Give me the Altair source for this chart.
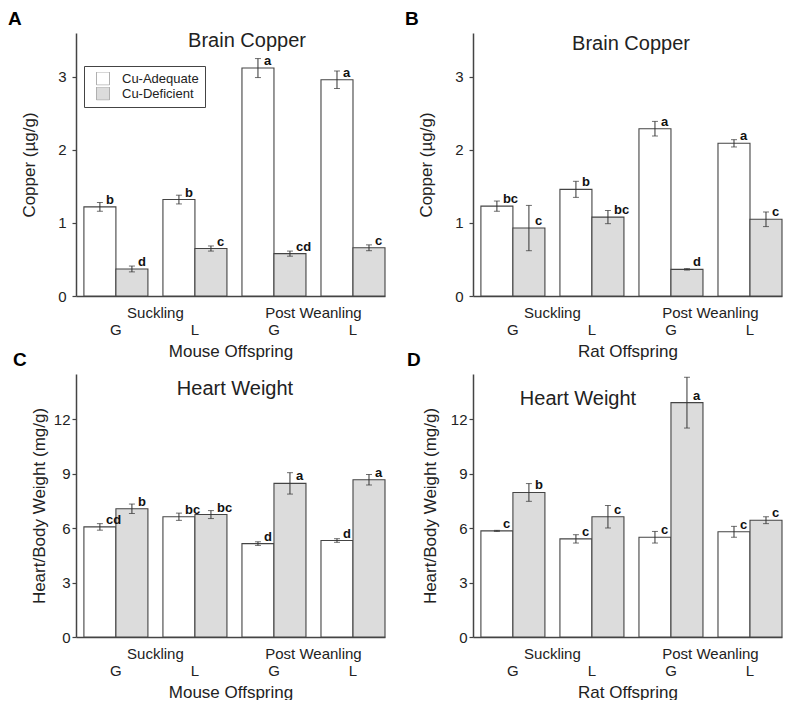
import altair as alt
import pandas as pd

# ---------------- data ----------------
groups = ["Suckling G", "Suckling L", "Post Weanling G", "Post Weanling L"]
diet_labels = ["G", "L", "G", "L"]
stage_labels = ["Suckling", "", "Post Weanling", ""]
treatments = ["Cu-Adequate", "Cu-Deficient"]

# Panel A: Brain copper, mouse offspring (ug/g)
a_adequate = [1.22, 1.32, 3.12, 2.96]
a_adequate_err = [0.06, 0.06, 0.13, 0.12]
a_adequate_sig = ["b", "b", "a", "a"]
a_deficient = [0.37, 0.65, 0.58, 0.66]
a_deficient_err = [0.04, 0.035, 0.035, 0.04]
a_deficient_sig = ["d", "c", "cd", "c"]

# Panel B: Brain copper, rat offspring (ug/g)
b_adequate = [1.23, 1.46, 2.29, 2.09]
b_adequate_err = [0.07, 0.11, 0.10, 0.05]
b_adequate_sig = ["bc", "b", "a", "a"]
b_deficient = [0.93, 1.08, 0.365, 1.05]
b_deficient_err = [0.31, 0.09, 0.01, 0.10]
b_deficient_sig = ["c", "bc", "d", "c"]

# Panel C: Heart/body weight, mouse offspring (mg/g)
c_adequate = [6.07, 6.63, 5.15, 5.32]
c_adequate_err = [0.18, 0.2, 0.1, 0.1]
c_adequate_sig = ["cd", "bc", "d", "d"]
c_deficient = [7.07, 6.75, 8.47, 8.67]
c_deficient_err = [0.26, 0.22, 0.59, 0.29]
c_deficient_sig = ["b", "bc", "a", "a"]

# Panel D: Heart/body weight, rat offspring (mg/g)
d_adequate = [5.85, 5.41, 5.50, 5.80]
d_adequate_err = [0.03, 0.23, 0.32, 0.30]
d_adequate_sig = ["c", "c", "c", "c"]
d_deficient = [7.97, 6.63, 12.92, 6.44]
d_deficient_err = [0.49, 0.62, 1.4, 0.19]
d_deficient_sig = ["b", "c", "a", "c"]

FONT = "Liberation Sans"
W, H = 309, 263
INK = "#222222"
LINE = "#444444"


def make_df(adq, adq_e, adq_s, dfc, dfc_e, dfc_s):
    rows = []
    for i, g in enumerate(groups):
        for t, v, e, s in ((treatments[0], adq[i], adq_e[i], adq_s[i]),
                           (treatments[1], dfc[i], dfc_e[i], dfc_s[i])):
            rows.append({"group": g, "treatment": t, "value": v,
                         "lo": v - e, "hi": v + e, "sig": s})
    return pd.DataFrame(rows)


label_df = pd.DataFrame({"group": groups, "diet": diet_labels, "stage": stage_labels})


def panel(df, ymax, yticks, ytitle, xtitle, title, title_xy, letter, letter_x,
          label_pad, title_x, legend=False):
    xscale = alt.Scale(domain=groups, paddingInner=0.19, paddingOuter=0.05, align=1)
    x = alt.X("group:N", scale=xscale, sort=groups,
              axis=alt.Axis(labels=False, ticks=False, title=xtitle,
                            titlePadding=47, titleFontSize=17, titleFont=FONT,
                            titleFontWeight="normal", titleColor=INK,
                            domainColor=LINE, domainWidth=1.5))
    xo = alt.XOffset("treatment:N", sort=treatments,
                     scale=alt.Scale(domain=treatments, paddingInner=0, paddingOuter=0))
    y = alt.Y("value:Q", scale=alt.Scale(domain=[0, ymax], nice=False, zero=True),
              axis=alt.Axis(values=yticks, format="d", title=ytitle, grid=False,
                            tickSize=4, tickColor=LINE, tickWidth=1.2,
                            domainColor=LINE, domainWidth=1.5, labelFontSize=15,
                            labelFont=FONT, labelColor=INK, labelPadding=label_pad,
                            titleFontSize=17, titleFont=FONT,
                            titleFontWeight="normal", titleColor=INK,
                            titleX=title_x, titleY=H / 2, titleBaseline="middle",
                            titleAlign="center", titleAngle=-90))
    if legend:
        leg = alt.Legend(orient="none", legendX=8, legendY=33, title=" ",
                         titleOrient="left", titleFontSize=13, titlePadding=6,
                         strokeColor=LINE, fillColor="white", padding=6,
                         symbolType="square", symbolSize=169, clipHeight=13,
                         symbolStrokeColor="#b0b0b0", symbolStrokeWidth=1,
                         labelFontSize=13, labelFont=FONT, labelColor=INK,
                         labelOffset=12, rowPadding=1)
    else:
        leg = None
    color = alt.Color("treatment:N",
                      scale=alt.Scale(domain=treatments, range=["#ffffff", "#dcdcdc"]),
                      legend=leg)
    base = alt.Chart(df)
    bars = base.mark_bar(stroke=LINE, strokeWidth=1.1, width={"band": 1}).encode(
        x=x, xOffset=xo, y=y, color=color)
    rules = base.mark_rule(color="#333333", strokeWidth=1).encode(
        x=alt.X("group:N", sort=groups), xOffset=xo, y="lo:Q", y2="hi:Q")
    cap_lo = base.mark_tick(color="#333333", thickness=1, size=6, orient="horizontal").encode(
        x=alt.X("group:N", sort=groups), xOffset=xo, y="lo:Q")
    cap_hi = base.mark_tick(color="#333333", thickness=1, size=6, orient="horizontal").encode(
        x=alt.X("group:N", sort=groups), xOffset=xo, y="hi:Q")
    sig = base.mark_text(align="left", baseline="alphabetic", dx=6, dy=-3,
                         fontSize=13, fontWeight="bold", font=FONT, color="#111111").encode(
        x=alt.X("group:N", sort=groups), xOffset=xo, y="value:Q", text="sig:N")
    lab = alt.Chart(label_df)
    diet = lab.mark_text(baseline="middle", align="center", fontSize=15, font=FONT,
                         color=INK).encode(
        x=alt.X("group:N", sort=groups), y=alt.value(H + 34), text="diet:N")
    stage = lab.mark_text(baseline="middle", align="center", fontSize=15, font=FONT,
                          color=INK, dx=39.5).encode(
        x=alt.X("group:N", sort=groups), y=alt.value(H + 17), text="stage:N")
    ttl = alt.Chart(pd.DataFrame({"t": [title]})).mark_text(
        baseline="middle", align="center", fontSize=20, font=FONT, color=INK).encode(
        x=alt.value(title_xy[0]), y=alt.value(title_xy[1]), text="t:N")
    let = alt.Chart(pd.DataFrame({"t": [letter]})).mark_text(
        baseline="top", align="left", fontSize=19, fontWeight="bold", font=FONT,
        color="#000000").encode(
        x=alt.value(letter_x), y=alt.value(-23), text="t:N")
    return alt.layer(bars, rules, cap_lo, cap_hi, sig, diet, stage, ttl, let).properties(
        width=W, height=H)


pA = panel(make_df(a_adequate, a_adequate_err, a_adequate_sig,
                   a_deficient, a_deficient_err, a_deficient_sig),
           3.6, [0, 1, 2, 3], "Copper (µg/g)", "Mouse Offspring", "Brain Copper",
           (171, 8), "A", -68, 6, -46.5, legend=True)
pB = panel(make_df(b_adequate, b_adequate_err, b_adequate_sig,
                   b_deficient, b_deficient_err, b_deficient_sig),
           3.6, [0, 1, 2, 3], "Copper (µg/g)", "Rat Offspring", "Brain Copper",
           (158, 11), "B", -68, 6, -47)
pC = panel(make_df(c_adequate, c_adequate_err, c_adequate_sig,
                   c_deficient, c_deficient_err, c_deficient_sig),
           14.5, [0, 3, 6, 9, 12], "Heart/Body Weight (mg/g)", "Mouse Offspring",
           "Heart Weight", (159, 15), "C", -63, 2, -36.5)
pD = panel(make_df(d_adequate, d_adequate_err, d_adequate_sig,
                   d_deficient, d_deficient_err, d_deficient_sig),
           14.5, [0, 3, 6, 9, 12], "Heart/Body Weight (mg/g)", "Rat Offspring",
           "Heart Weight", (105, 25), "D", -66, 2, -43)

chart = alt.concat(pA, pB, pC, pD, columns=2, spacing={"row": 78, "column": 88},
                   bounds="flush").resolve_scale(
    x="independent", y="independent", color="independent", xOffset="independent"
).resolve_legend(color="independent").configure_view(stroke=None).properties(
    padding={"top": 2, "left": 0, "right": 0, "bottom": 0}, background="white")

chart.save("out.html", embed_options={"renderer": "svg", "actions": False})
